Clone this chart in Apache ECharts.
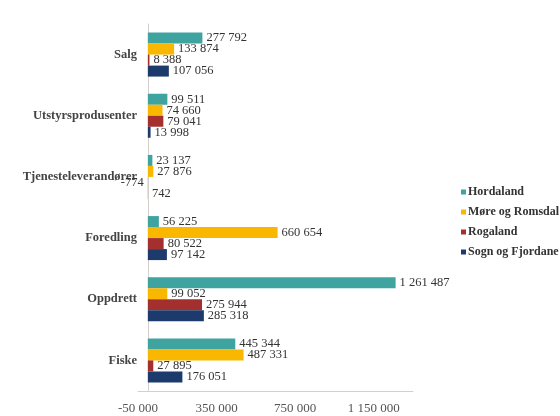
<!DOCTYPE html>
<html>
<head>
<meta charset="utf-8">
<script src="https://cdn.jsdelivr.net/npm/echarts@6/dist/echarts.min.js"></script>
<style>
  html, body { margin: 0; padding: 0; background: #fff; }
  #chart { width: 560px; height: 416px; }
</style>
</head>
<body>
<div id="chart"></div>
<script>
// kategorier (ovenfra og ned)
var categories = ['Salg', 'Utstyrsprodusenter', 'Tjenesteleverandører', 'Foredling', 'Oppdrett', 'Fiske']

var hordaland = [277792, 99511, 23137, 56225, 1261487, 445344]
var moreRomsdal = [133874, 74660, 27876, 660654, 99052, 487331]
var rogaland = [8388, 79041, -774, 80522, 275944, 27895]
var sognFjordane = [107056, 13998, 742, 97142, 285318, 176051]

var seriesNames = ['Hordaland', 'Møre og Romsdal', 'Rogaland', 'Sogn og Fjordane']
var colors = ['#3fa39f', '#f9b700', '#a3302f', '#1d3a6c']

var serif = '"Liberation Serif", "DejaVu Serif", serif'

// 277792 -> "277 792"
function fmt(v) {
  var s = String(Math.abs(v)).replace(/\B(?=(\d{3})+(?!\d))/g, ' ')
  return (v < 0 ? '-' : '') + s
}

function makeSeries(name, values) {
  return {
    name: name,
    type: 'bar',
    barWidth: 11,
    barGap: '0%',
    data: values.map(function (v) {
      return {
        value: v,
        label: { position: v < 0 ? 'left' : 'right' },
      }
    }),
    label: {
      show: true,
      distance: 4,
      fontFamily: serif,
      fontSize: 12.5,
      color: '#333',
      formatter: function (p) { return fmt(p.value) },
    },
  }
}

var chart = echarts.init(document.getElementById('chart'))
chart.setOption({
  animation: false,
  color: colors,
  grid: { left: 138, right: 147, top: 24, bottom: 25 },
  legend: {
    orient: 'vertical',
    left: 456,
    top: 181,
    itemWidth: 5,
    itemHeight: 5,
    itemGap: 8,
    icon: 'rect',
    textStyle: { fontFamily: serif, fontSize: 12, color: '#333', fontWeight: 'bold', padding: [0, 0, 0, -3] },
  },
  xAxis: {
    type: 'value',
    min: -50000,
    max: 1350000,
    interval: 400000,
    splitLine: { show: false },
    axisTick: { show: false },
    axisLine: { show: true, lineStyle: { color: '#d4cfcb' } },
    axisLabel: {
      showMaxLabel: false,
      fontFamily: serif,
      fontSize: 13,
      color: '#555',
      margin: 11,
      formatter: function (v) { return fmt(v) },
    },
  },
  yAxis: {
    type: 'category',
    inverse: true,
    data: categories,
    axisTick: { show: false },
    axisLine: { show: true, lineStyle: { color: '#d4cfcb' } },
    axisLabel: {
      fontFamily: serif,
      fontSize: 12.5,
      fontWeight: 'bold',
      color: '#444',
      margin: 1,
    },
  },
  series: [
    makeSeries(seriesNames[0], hordaland),
    makeSeries(seriesNames[1], moreRomsdal),
    makeSeries(seriesNames[2], rogaland),
    makeSeries(seriesNames[3], sognFjordane),
  ],
})
</script>
</body>
</html>
